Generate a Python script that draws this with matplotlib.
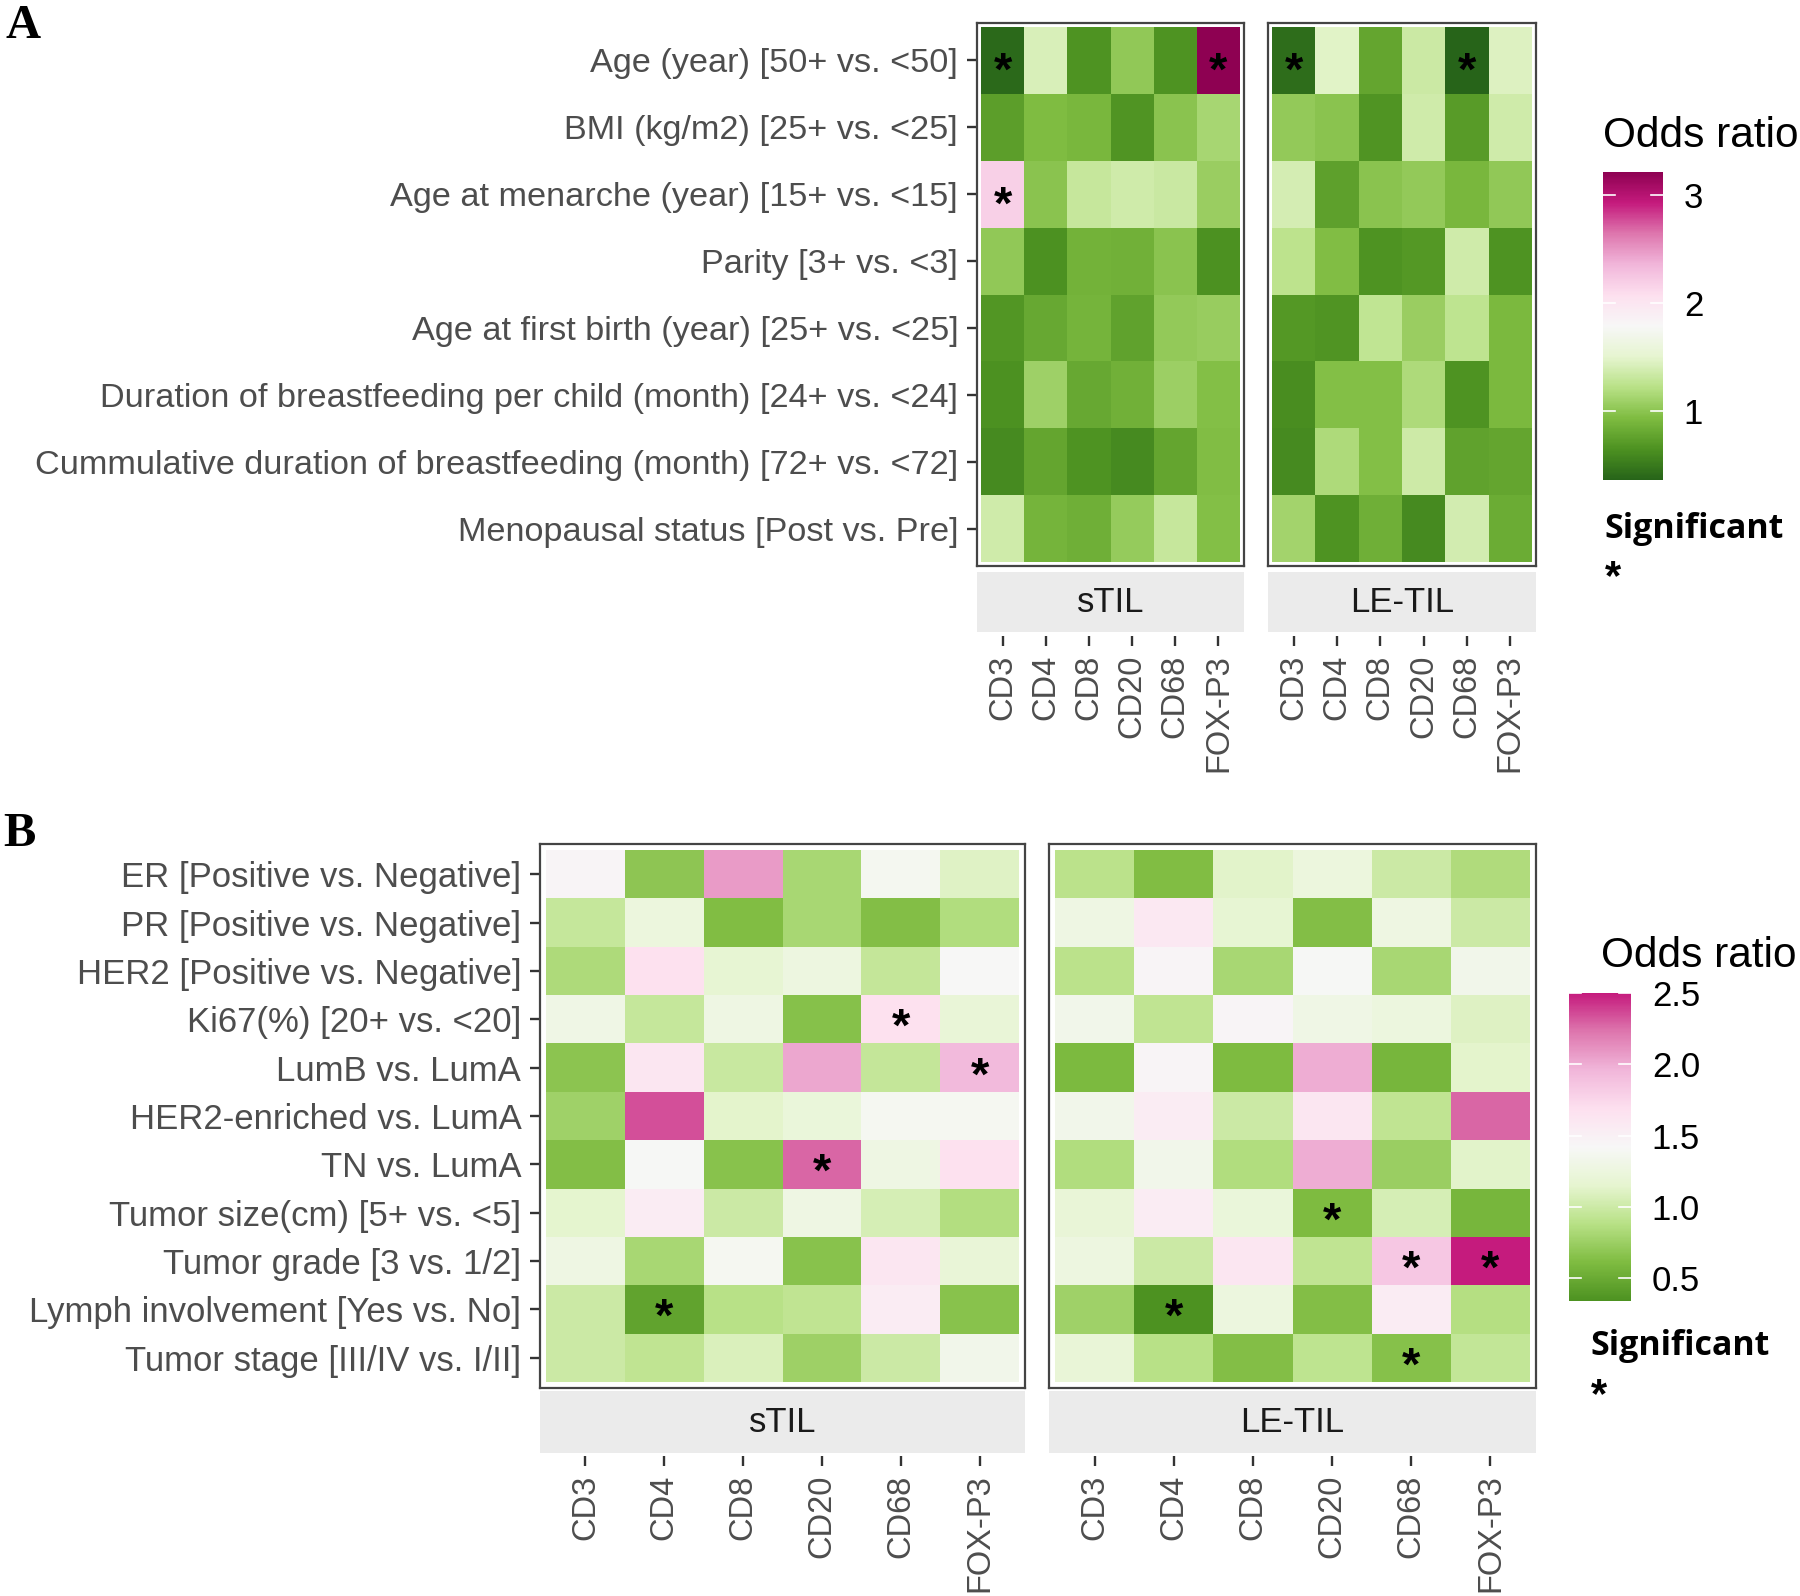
import numpy as np
import matplotlib
matplotlib.use('Agg')
import matplotlib.pyplot as plt
from matplotlib.colors import LinearSegmentedColormap, Normalize
from matplotlib.cm import ScalarMappable

plt.rcParams['font.family'] = ['Liberation Sans', 'DejaVu Sans']

markers = ['CD3', 'CD4', 'CD8', 'CD20', 'CD68', 'FOX-P3']
groups = ['sTIL', 'LE-TIL']

rows_a = ['Age (year) [50+ vs. <50]',
          'BMI (kg/m2) [25+ vs. <25]',
          'Age at menarche (year) [15+ vs. <15]',
          'Parity [3+ vs. <3]',
          'Age at first birth (year) [25+ vs. <25]',
          'Duration of breastfeeding per child (month) [24+ vs. <24]',
          'Cummulative duration of breastfeeding (month) [72+ vs. <72]',
          'Menopausal status [Post vs. Pre]']

rows_b = ['ER [Positive vs. Negative]',
          'PR [Positive vs. Negative]',
          'HER2 [Positive vs. Negative]',
          'Ki67(%) [20+ vs. <20]',
          'LumB vs. LumA',
          'HER2-enriched vs. LumA',
          'TN vs. LumA',
          'Tumor size(cm) [5+ vs. <5]',
          'Tumor grade [3 vs. 1/2]',
          'Lymph involvement [Yes vs. No]',
          'Tumor stage [III/IV vs. I/II]']

# odds ratios, rows x markers
or_a_stil = [[0.40, 1.41, 0.65, 1.02, 0.65, 3.21],
             [0.73, 0.93, 0.90, 0.67, 0.99, 1.13],
             [2.18, 0.99, 1.30, 1.36, 1.32, 1.07],
             [1.02, 0.64, 0.87, 0.85, 0.99, 0.64],
             [0.68, 0.80, 0.88, 0.75, 1.03, 1.06],
             [0.64, 1.09, 0.80, 0.86, 1.08, 0.96],
             [0.60, 0.78, 0.66, 0.60, 0.78, 0.95],
             [1.36, 0.88, 0.84, 1.05, 1.30, 0.96]]
or_a_letil = [[0.42, 1.47, 0.78, 1.33, 0.36, 1.45],
              [1.03, 0.99, 0.67, 1.36, 0.71, 1.36],
              [1.39, 0.74, 0.99, 1.03, 0.90, 1.02],
              [1.24, 0.95, 0.65, 0.69, 1.36, 0.65],
              [0.69, 0.67, 1.27, 1.07, 1.26, 0.91],
              [0.62, 0.96, 0.96, 1.17, 0.65, 0.91],
              [0.60, 1.17, 0.96, 1.35, 0.75, 0.78],
              [1.11, 0.66, 0.84, 0.60, 1.38, 0.82]]
or_b_stil = [[1.46, 0.68, 2.07, 0.81, 1.37, 1.11],
             [0.96, 1.24, 0.62, 0.81, 0.63, 0.85],
             [0.83, 1.68, 1.17, 1.26, 0.95, 1.42],
             [1.30, 0.96, 1.28, 0.65, 1.68, 1.20],
             [0.67, 1.62, 0.98, 2.02, 0.95, 1.93],
             [0.77, 2.34, 1.14, 1.22, 1.38, 1.38],
             [0.63, 1.41, 0.66, 2.28, 1.28, 1.68],
             [1.15, 1.55, 0.99, 1.28, 1.05, 0.86],
             [1.28, 0.81, 1.38, 0.66, 1.62, 1.20],
             [0.99, 0.45, 0.88, 0.93, 1.55, 0.66],
             [0.99, 0.93, 1.08, 0.76, 0.99, 1.33]]
or_b_letil = [[0.90, 0.62, 1.13, 1.24, 0.99, 0.84],
              [1.28, 1.59, 1.17, 0.63, 1.27, 0.99],
              [0.90, 1.46, 0.81, 1.41, 0.81, 1.33],
              [1.33, 0.93, 1.45, 1.30, 1.25, 1.10],
              [0.60, 1.45, 0.61, 2.00, 0.57, 1.14],
              [1.33, 1.55, 0.99, 1.62, 0.93, 2.28],
              [0.85, 1.33, 0.85, 2.00, 0.74, 1.13],
              [1.20, 1.55, 1.22, 0.61, 1.05, 0.57],
              [1.26, 0.99, 1.62, 0.93, 1.85, 2.50],
              [0.77, 0.34, 1.25, 0.63, 1.55, 0.87],
              [1.20, 0.88, 0.63, 0.92, 0.65, 0.94]]

# significant cells (row, marker)
sig_a_stil = [(0, 0), (0, 5), (2, 0)]
sig_a_letil = [(0, 0), (0, 4)]
sig_b_stil = [(3, 4), (4, 5), (6, 3), (9, 1)]
sig_b_letil = [(7, 3), (8, 4), (8, 5), (9, 1), (10, 4)]

W, H = 1800, 1596
fig = plt.figure(figsize=(W / 100, H / 100), dpi=100)

piyg = ['#8e0152', '#c51b7d', '#de77ae', '#f1b6da', '#fde0ef', '#f7f7f7',
        '#e6f5d0', '#b8e186', '#7fbc41', '#4d9221', '#276419']
cmap_a = LinearSegmentedColormap.from_list('a', piyg[::-1])
cmap_b = LinearSegmentedColormap.from_list('b', piyg[1:-1][::-1])

all_a = np.array(or_a_stil + or_a_letil)
all_b = np.array(or_b_stil + or_b_letil)
norm_a = Normalize(all_a.min(), all_a.max())
norm_b = Normalize(all_b.min(), all_b.max())

XTXT = 23.5
GREY = '#4d4d4d'


def box(x0, y0, x1, y1):
    return [x0 / W, 1 - y1 / H, (x1 - x0) / W, (y1 - y0) / H]


def heat(pos, strip, tick_top, vals, stars, title, rows, cmap, norm, show_y,
         pad, ysize, star_dy):
    vals = np.array(vals)
    n = vals.shape[0]
    ax = fig.add_axes(box(*pos))
    ax.pcolormesh(np.arange(7) - 0.5, np.arange(n + 1) - 0.5, vals,
                  cmap=cmap, norm=norm)
    colw = (pos[2] - pos[0] - 2 * pad) / 6
    rowh = (pos[3] - pos[1] - 2 * pad) / n
    padx = pad / colw
    pady = pad / rowh
    ax.set_xlim(-0.5 - padx, 5.5 + padx)
    ax.set_ylim(n - 0.5 + pady, -0.5 - pady)
    ax.set_xticks([])
    if show_y:
        ax.set_yticks(range(n))
        ax.set_yticklabels(rows)
        ax.tick_params(axis='y', length=7.5, width=1.7, color='#333333',
                       pad=6, labelsize=ysize, labelcolor=GREY)
    else:
        ax.set_yticks([])
    for s in ax.spines.values():
        s.set_color('#444444')
        s.set_linewidth(1.6)
    for r, c in stars:
        ax.annotate('*', (c, r), xytext=(0, star_dy), textcoords='offset points',
                    ha='center', va='center', fontsize=34,
                    fontweight='bold', color='black')

    sax = fig.add_axes(box(pos[0], strip[0], pos[2], strip[1]))
    sax.set_facecolor('#ebebeb')
    for s in sax.spines.values():
        s.set_visible(False)
    sax.set_xticks([])
    sax.set_yticks([])
    sax.text(0.5, 0.5, title, transform=sax.transAxes, ha='center',
             va='center', fontsize=25, color='#1a1a1a')

    tax = fig.add_axes(box(pos[0], tick_top - 1, pos[2], tick_top))
    tax.patch.set_visible(False)
    for s in tax.spines.values():
        s.set_visible(False)
    tax.set_xlim(-0.5 - padx, 5.5 + padx)
    tax.set_yticks([])
    tax.set_xticks(range(6))
    tax.set_xticklabels(markers, rotation=90)
    tax.tick_params(axis='x', length=7.5, width=1.7, color='#333333', pad=6,
                    labelsize=XTXT, labelcolor=GREY)
    return ax


def legend(title_xy, cpos, sig_xy, star_xy, cmap, norm, ticks, fmt):
    fig.text(title_xy[0] / W, 1 - title_xy[1] / H, 'Odds ratio',
             fontsize=30.5, va='baseline', ha='left', color='black')
    cax = fig.add_axes(box(*cpos))
    sm = ScalarMappable(norm=norm, cmap=cmap)
    cb = fig.colorbar(sm, cax=cax, ticks=ticks, format=fmt)
    cb.outline.set_visible(False)
    cax.tick_params(length=0, pad=15, labelsize=25, labelcolor='black')
    for t in ticks:
        cax.plot([0, 0.2], [t, t], transform=cax.get_yaxis_transform(),
                 color='white', lw=1.2)
        cax.plot([0.8, 1], [t, t], transform=cax.get_yaxis_transform(),
                 color='white', lw=1.2)
    fig.text(sig_xy[0] / W, 1 - sig_xy[1] / H, 'Significant',
             fontsize=24.5, fontweight='bold', va='baseline', ha='left',
             family=['Open Sans', 'DejaVu Sans'])
    fig.text(star_xy[0] / W, 1 - star_xy[1] / H, '*', fontsize=30,
             fontweight='bold', ha='center', va='center')


# Panel A
heat((977, 23, 1244, 566), (572, 632), 636, or_a_stil, sig_a_stil, groups[0],
     rows_a, cmap_a, norm_a, True, 4, 24.7, -9)
heat((1268, 23, 1536, 566), (572, 632), 636, or_a_letil, sig_a_letil, groups[1],
     rows_a, cmap_a, norm_a, False, 4, 24.7, -9)
legend((1603, 147), (1603, 172, 1663, 480), (1604, 538), (1613, 578),
       cmap_a, norm_a, [1, 2, 3], '%d')

# Panel B
heat((540, 844, 1025, 1388), (1391, 1453), 1456, or_b_stil, sig_b_stil,
     groups[0], rows_b, cmap_b, norm_b, True, 6, 25, -7)
heat((1049, 844, 1536, 1388), (1391, 1453), 1456, or_b_letil, sig_b_letil,
     groups[1], rows_b, cmap_b, norm_b, False, 6, 25, -7)
legend((1601, 967), (1569, 993, 1631, 1301), (1590, 1355), (1599, 1396),
       cmap_b, norm_b, [0.5, 1.0, 1.5, 2.0, 2.5], '%.1f')

fig.text(6 / W, 1 - 38 / H, 'A', fontsize=35, fontweight='bold',
         family=['Liberation Serif', 'DejaVu Serif'], va='baseline')
fig.text(3 / W, 1 - 846 / H, 'B', fontsize=35, fontweight='bold',
         family=['Liberation Serif', 'DejaVu Serif'], va='baseline')

fig.savefig('out.png', dpi=100)
